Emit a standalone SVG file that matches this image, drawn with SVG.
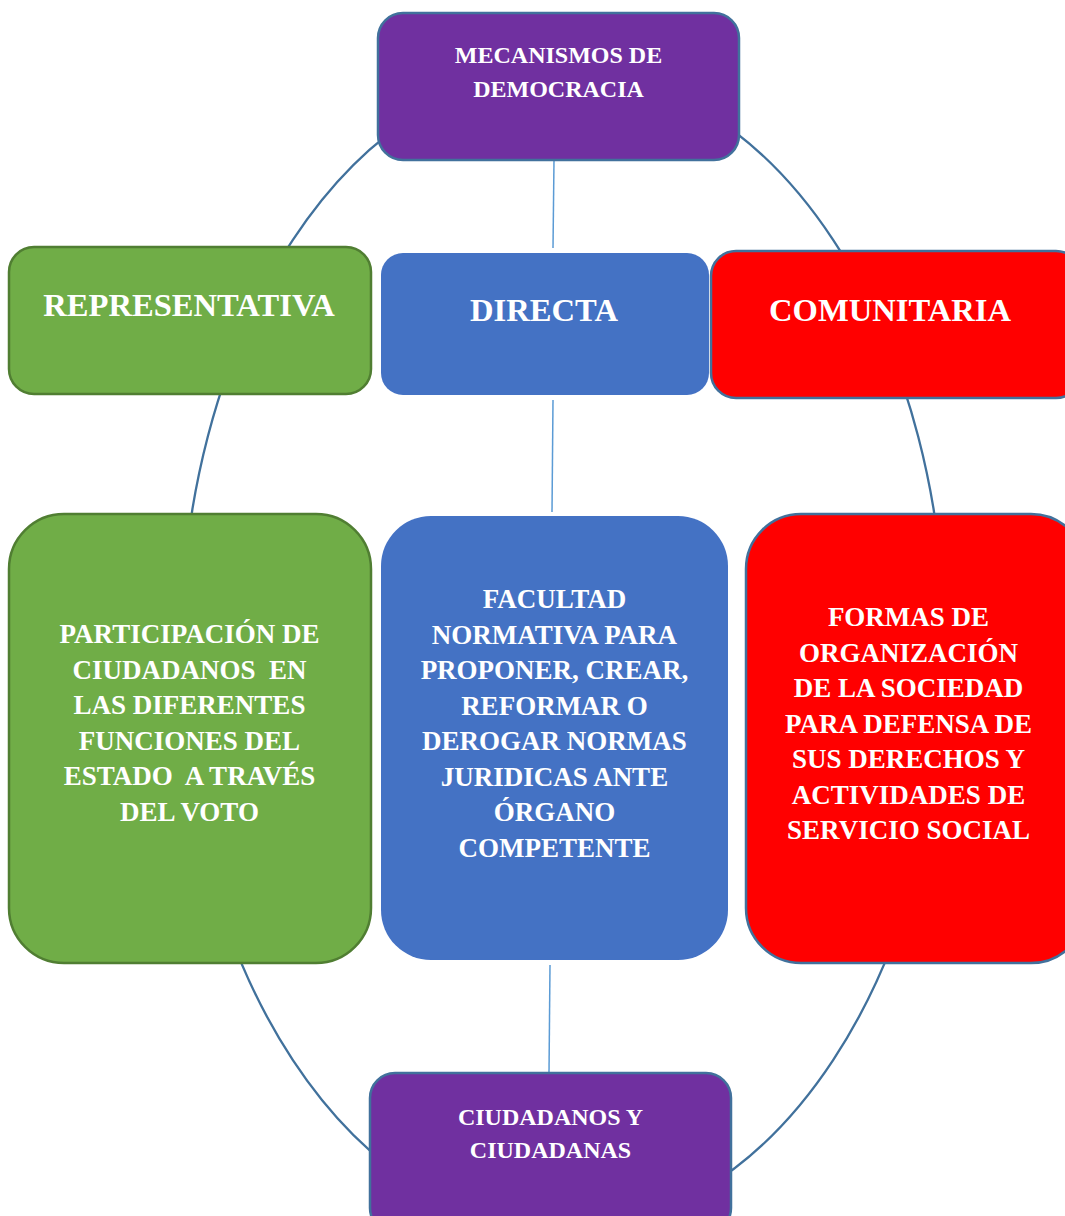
<svg xmlns="http://www.w3.org/2000/svg" width="1065" height="1216" viewBox="0 0 1065 1216">
<style>
.t{font-family:"Liberation Serif","Times New Roman",serif;font-weight:bold;fill:#ffffff;text-anchor:middle;white-space:pre}
.s{font-size:24px}
.b{font-size:32.6px}
.m{font-size:27px}
.ring{fill:none;stroke:#41719C;stroke-width:2.3}
.ln{stroke:#5B9BD5;stroke-width:1.5}
</style>
<rect width="1065" height="1216" fill="#ffffff"/>
<g id="connectors">
<ellipse class="ring" cx="563" cy="650" rx="382" ry="580"/>
<line class="ln" x1="554" y1="160" x2="553" y2="248"/>
<line class="ln" x1="553" y1="400" x2="552" y2="512"/>
<line class="ln" x1="550" y1="965" x2="549" y2="1073"/>
</g>
<g id="node-mecanismos">
<rect x="378" y="13" width="361" height="147" rx="25" fill="#7030A0" stroke="#41719C" stroke-width="2.5"/>
<text class="t s" x="558.5" y="63">MECANISMOS DE</text>
<text class="t s" x="558.5" y="97">DEMOCRACIA</text>
</g>
<g id="node-representativa">
<rect x="9" y="247" width="362" height="147" rx="25" fill="#70AD47" stroke="#507E32" stroke-width="2.5"/>
<text class="t b" x="189" y="316">REPRESENTATIVA</text>
</g>
<g id="node-directa">
<rect x="381" y="253" width="328" height="142" rx="22" fill="#4472C4"/>
<text class="t b" x="544" y="321">DIRECTA</text>
</g>
<g id="node-comunitaria">
<rect x="711" y="251" width="370" height="147" rx="25" fill="#FF0000" stroke="#41719C" stroke-width="2.5"/>
<text class="t b" x="890" y="321">COMUNITARIA</text>
</g>
<g id="node-participacion">
<rect x="9" y="514" width="362" height="449" rx="55" fill="#70AD47" stroke="#507E32" stroke-width="2.5"/>
<text class="t m" x="189.5" y="643">PARTICIPACIÓN DE</text>
<text class="t m" x="189.5" y="678.5">CIUDADANOS  EN</text>
<text class="t m" x="189.5" y="714">LAS DIFERENTES</text>
<text class="t m" x="189.5" y="749.5">FUNCIONES DEL</text>
<text class="t m" x="189.5" y="785">ESTADO  A TRAVÉS</text>
<text class="t m" x="189.5" y="820.5">DEL VOTO</text>
</g>
<g id="node-facultad">
<rect x="381" y="516" width="347" height="444" rx="50" fill="#4472C4"/>
<text class="t m" x="554.5" y="608">FACULTAD</text>
<text class="t m" x="554.5" y="643.5">NORMATIVA PARA</text>
<text class="t m" x="554.5" y="679">PROPONER, CREAR,</text>
<text class="t m" x="554.5" y="714.5">REFORMAR O</text>
<text class="t m" x="554.5" y="750">DEROGAR NORMAS</text>
<text class="t m" x="554.5" y="785.5">JURIDICAS ANTE</text>
<text class="t m" x="554.5" y="821">ÓRGANO</text>
<text class="t m" x="554.5" y="856.5">COMPETENTE</text>
</g>
<g id="node-formas">
<rect x="746" y="514" width="340" height="449" rx="55" fill="#FF0000" stroke="#41719C" stroke-width="2.5"/>
<text class="t m" x="908.5" y="626">FORMAS DE</text>
<text class="t m" x="908.5" y="661.5">ORGANIZACIÓN</text>
<text class="t m" x="908.5" y="697">DE LA SOCIEDAD</text>
<text class="t m" x="908.5" y="732.5">PARA DEFENSA DE</text>
<text class="t m" x="908.5" y="768">SUS DERECHOS Y</text>
<text class="t m" x="908.5" y="803.5">ACTIVIDADES DE</text>
<text class="t m" x="908.5" y="839">SERVICIO SOCIAL</text>
</g>
<g id="node-ciudadanos">
<rect x="370" y="1073" width="361" height="160" rx="25" fill="#7030A0" stroke="#41719C" stroke-width="2.5"/>
<text class="t s" x="550.5" y="1125">CIUDADANOS Y</text>
<text class="t s" x="550.5" y="1158">CIUDADANAS</text>
</g>
</svg>
